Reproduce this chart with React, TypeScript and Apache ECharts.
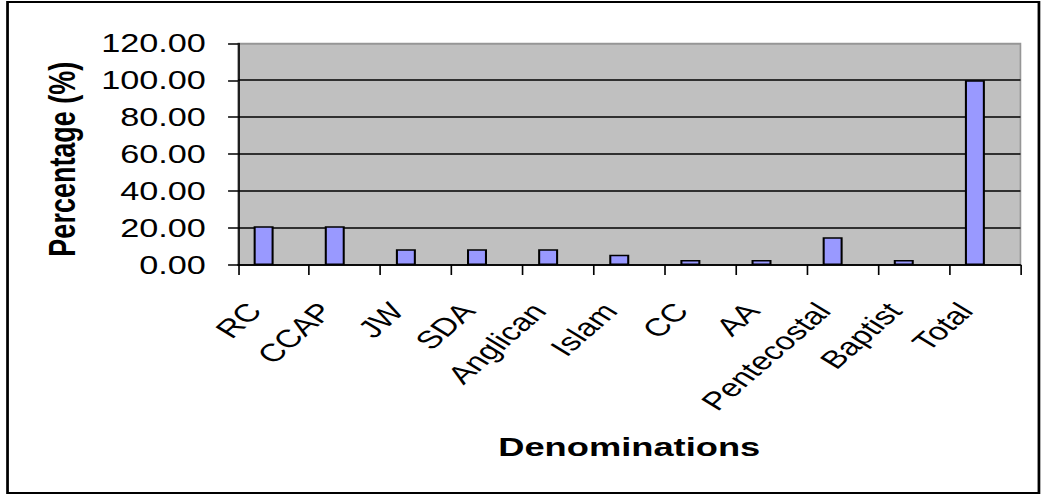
import React, { useEffect, useRef } from 'react';
import * as echarts from 'echarts';

// Denomination shares (%) of the surveyed population
const categories = ['RC', 'CCAP', 'JW', 'SDA', 'Anglican', 'Islam', 'CC', 'AA', 'Pentecostal', 'Baptist', 'Total'];
const percentages = [21.0, 21.0, 8.5, 8.5, 8.5, 5.5, 2.7, 2.7, 15.0, 2.7, 100.0];

// Value axis range
const yMin = 0;
const yMax = 120;
const yStep = 20;

// The chart is laid out on a narrower canvas and widened horizontally
const BASE_WIDTH = 760;
const STRETCH = 1041 / BASE_WIDTH;

const FONT = '"Liberation Sans", Arial, Helvetica, sans-serif';

export default function App() {
  const ref = useRef<HTMLDivElement>(null);

  useEffect(() => {
    if (!ref.current) return;
    const chart = echarts.init(ref.current, null, { renderer: 'svg' });
    const gridLineColors = [] as string[];
    for (let v = yMin; v <= yMax; v += yStep) {
      gridLineColors.push(v === yMax ? '#969696' : '#000000');
    }
    chart.setOption({
      animation: false,
      backgroundColor: '#ffffff',
      textStyle: { fontFamily: FONT },
      graphic: [
        {
          type: 'rect',
          silent: true,
          shape: { x: 5.5, y: 2, width: 753, height: 491 },
          style: { fill: 'none', stroke: '#000000', lineWidth: 2 },
        },
      ],
      grid: {
        left: 173.8,
        top: 43.3,
        width: 571.2,
        height: 221.7,
        show: true,
        backgroundColor: '#C0C0C0',
        borderColor: '#969696',
        borderWidth: 1.2,
        containLabel: false,
      },
      xAxis: {
        type: 'category',
        data: categories,
        boundaryGap: true,
        axisLine: { show: true, lineStyle: { color: '#000000', width: 1.5 } },
        axisTick: { show: true, interval: 0, length: 10, lineStyle: { color: '#000000', width: 1.2 } },
        axisLabel: {
          interval: 0,
          rotate: 50,
          fontSize: 25,
          fontFamily: FONT,
          color: '#000000',
          margin: 24.5,
          padding: [0, 22, 0, 0],
        },
        splitLine: { show: false },
        name: 'Denominations',
        nameLocation: 'middle',
        nameGap: 168,
        nameTextStyle: { fontSize: 26.5, fontWeight: 'bold', fontFamily: FONT, color: '#000000' },
      },
      yAxis: {
        type: 'value',
        min: yMin,
        max: yMax,
        interval: yStep,
        axisLine: { show: true, lineStyle: { color: '#000000', width: 1.2 } },
        axisTick: { show: true, length: 7.3, lineStyle: { color: '#000000', width: 1.5 } },
        axisLabel: {
          formatter: (v: number) => v.toFixed(2),
          fontSize: 25,
          fontFamily: FONT,
          color: '#000000',
          margin: 23.5,
        },
        splitLine: { show: true, lineStyle: { color: gridLineColors, width: 1.5 } },
        name: 'Percentage (%)',
        nameLocation: 'middle',
        nameRotate: 90,
        nameGap: 115,
        nameTextStyle: {
          fontSize: 27,
          fontWeight: 'bold',
          fontFamily: FONT,
          color: '#000000',
          padding: [0, 10, 0, 0],
        },
      },
      series: [
        {
          name: 'Percentage',
          type: 'bar',
          data: percentages,
          barWidth: 14.6,
          barGap: '0%',
          itemStyle: { color: '#9999FF', borderColor: '#000000', borderWidth: 1.5 },
        },
        {
          // empty companion column: keeps each bar on the left half of its slot
          name: 'Companion',
          type: 'bar',
          data: [],
          barWidth: 14.6,
          barGap: '0%',
        },
      ],
    });
    return () => chart.dispose();
  }, []);

  return (
    <div
      ref={ref}
      style={{
        position: 'absolute',
        left: 0,
        top: 0,
        width: BASE_WIDTH,
        height: 495,
        transform: `scaleX(${STRETCH})`,
        transformOrigin: '0 0',
        background: '#ffffff',
      }}
    />
  );
}
